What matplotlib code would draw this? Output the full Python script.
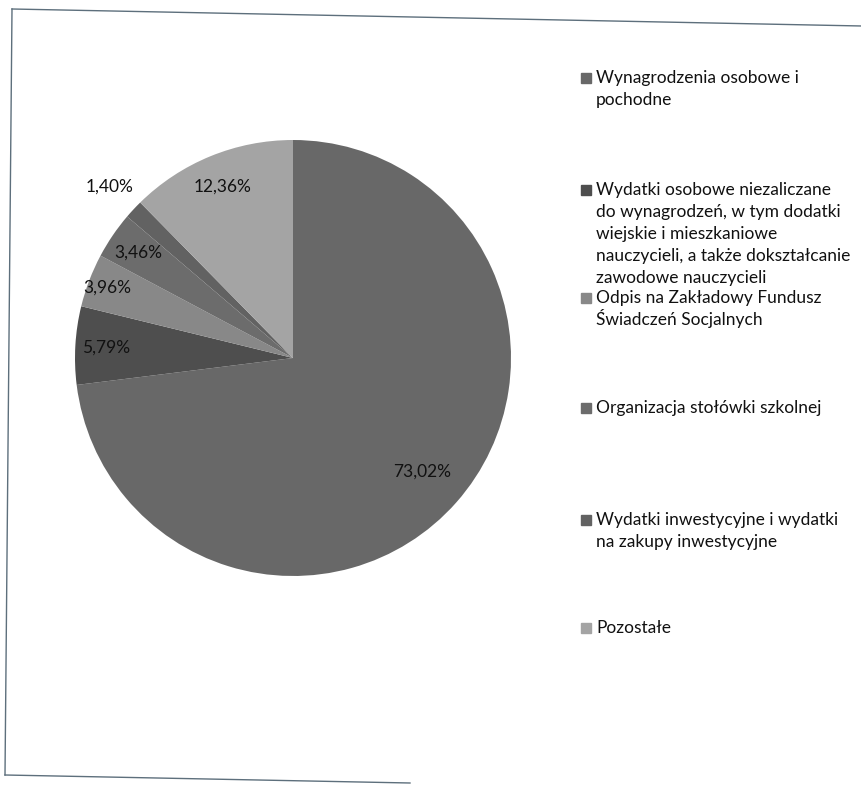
import numpy as np
import matplotlib.pyplot as plt
from matplotlib.lines import Line2D
from matplotlib.patches import Rectangle

labels = ['Wynagrodzenia osobowe i\npochodne',
          'Wydatki osobowe niezaliczane\ndo wynagrodzeń, w tym dodatki\nwiejskie i mieszkaniowe\nnauczycieli, a także dokształcanie\nzawodowe nauczycieli',
          'Odpis na Zakładowy Fundusz\nŚwiadczeń Socjalnych',
          'Organizacja stołówki szkolnej',
          'Wydatki inwestycyjne i wydatki\nna zakupy inwestycyjne',
          'Pozostałe']
shares = [73.02, 5.79, 3.96, 3.46, 1.40, 12.36]
colors = ['#686868', '#4e4e4e', '#888888', '#6c6c6c', '#626262', '#a4a4a4']
# label distance from centre (fraction of radius)
label_r = [0.79, 0.86, 0.91, 0.86, 1.15, 0.85]

plt.rcParams['font.family'] = ['Lato', 'DejaVu Sans']

W, H = 862, 785
fig = plt.figure(figsize=(W/100, H/100), dpi=100)

#pie axes
cx, cy, R = 293, 358, 218
ax = fig.add_axes([(cx-R)/W, (H-cy-R)/H, 2*R/W, 2*R/H])
wedges, _ = ax.pie(shares, colors=colors, startangle=90, counterclock=False, radius=1)
ax.set_xlim(-1, 1)
ax.set_ylim(-1, 1)
ax.set_aspect('equal')
ax.axis('off')

for w, v, r in zip(wedges, shares, label_r):
	mid = np.deg2rad((w.theta1 + w.theta2) / 2.)
	txt = ('%.2f%%' % v).replace('.', ',')
	ax.text(r*np.cos(mid), r*np.sin(mid), txt, ha='center', va='center', fontsize=12.5, color='#111111')

#legend, drawn by hand (one line at a time so accents don't shift spacing)
legend_y = [78, 190, 298, 408, 520, 628]
lh = 22
for y, lab, col in zip(legend_y, labels, colors):
	fig.patches.append(Rectangle((581/W, 1-(y+5)/H), 10/W, 10/H, transform=fig.transFigure, color=col, figure=fig))
	for k, line in enumerate(lab.split('\n')):
		fig.text(596/W, 1-(y+5+k*lh)/H, line, ha='left', va='baseline', fontsize=12.5, color='#111111')

#slightly skewed frame from the scan
bc = '#5d6f7c'
fig.add_artist(Line2D([12/W, 1.0], [1-9/H, 1-26/H], color=bc, lw=1.0, transform=fig.transFigure))
fig.add_artist(Line2D([12/W, 5/W], [1-9/H, 1-775/H], color=bc, lw=1.0, transform=fig.transFigure))
fig.add_artist(Line2D([5/W, 410/W], [1-775/H, 1-783/H], color=bc, lw=1.0, transform=fig.transFigure))

fig.savefig('out.png', dpi=100)
